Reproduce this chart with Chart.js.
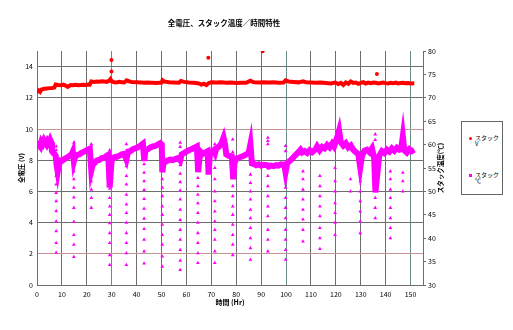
<!DOCTYPE html>
<html>
<head>
<meta charset="utf-8">
<script src="https://cdn.jsdelivr.net/npm/chart.js@4.4.1/dist/chart.umd.min.js"></script>
<style>
    body { margin: 0; background: #fff; }
    #cadre { position: relative; width: 513px; height: 330px; }
    #legende {
        position: absolute; left: 461px; top: 121px; width: 40px; height: 72px;
        border: 1px solid #666; background: #fff;
        font: 6px "Noto Sans CJK JP", sans-serif; color: #000; line-height: 6px;
    }
    .item { position: absolute; left: 2px; }
    .item span.m { position: absolute; left: 5px; top: 2px; width: 3px; height: 3px; }
    .item span.t { position: absolute; left: 11px; top: 0; white-space: nowrap; }
</style>
</head>
<body>
<div id="cadre">
    <canvas id="graphe" width="513" height="330"></canvas>
    <div id="legende">
        <div class="item" style="top:13px"><span class="m" style="background:#ff0000;border-radius:50%"></span><span class="t">スタック<br>V</span></div>
        <div class="item" style="top:50px"><span class="m" style="background:#ff00ff"></span><span class="t">スタック<br>℃</span></div>
    </div>
</div>
<script>
// tension totale de la pile (V, axe gauche)
const voltHours = [0.3, 0.7, 1.2, 1.7, 2.2, 3, 4, 5, 6, 7, 7.5, 8.5, 9.5, 10.5, 11.5, 12.3, 13.5, 14.5, 15.5, 16.5,
    17.5, 18.5, 19.5, 20.5, 21.2, 21.8, 23, 24, 25, 26, 27, 28, 29, 29.5, 30, 31, 32, 33, 34, 35,
    36, 37, 38, 40, 42, 43, 44, 46, 48, 50, 50.4, 51, 53, 55, 57, 57.8, 59, 61, 63, 65,
    66, 67, 68, 69, 70, 72, 74, 76, 78, 80, 82, 84, 85.7, 87, 89, 91, 93, 95, 97, 99,
    99.8, 101, 103, 105, 106.8, 108, 110, 112, 114, 116, 118, 119.7, 121, 122, 123, 124, 125, 126, 127, 128,
    129, 130, 131, 132, 133, 134, 135, 136, 137, 138, 139, 140, 141, 142, 143, 144, 145, 146, 147, 148,
    149, 150, 151.5];
const voltValues = [12.30, 12.45, 12.38, 12.52, 12.55, 12.58, 12.60, 12.62, 12.63, 12.66, 12.85, 12.82, 12.80, 12.84, 12.78, 12.70, 12.82, 12.80, 12.83, 12.80,
    12.82, 12.84, 12.82, 12.85, 12.84, 13.05, 13.02, 13.05, 13.03, 13.06, 13.04, 13.02, 13.10, 13.20, 13.05, 13.00, 12.98, 13.02, 13.00, 12.98,
    13.12, 13.05, 13.02, 13.00, 12.98, 12.96, 12.98, 12.97, 12.95, 12.98, 13.12, 13.05, 13.00, 12.98, 12.96, 13.08, 13.02, 12.98, 12.96, 12.92,
    12.85, 12.90, 12.82, 12.95, 13.00, 12.98, 12.99, 12.96, 12.98, 12.95, 12.97, 12.96, 13.10, 13.00, 12.98, 13.00, 12.98, 12.99, 12.97, 12.98,
    13.12, 13.05, 13.02, 12.99, 13.06, 13.00, 12.98, 12.96, 12.98, 12.95, 12.92, 12.98, 12.88, 12.96, 12.82, 12.98, 12.90, 13.05, 12.95, 12.98,
    12.90, 12.96, 13.00, 12.92, 12.98, 12.94, 12.98, 12.96, 12.92, 12.95, 12.98, 12.94, 12.92, 12.96, 12.93, 12.98, 12.92, 12.95, 12.96, 12.93,
    12.95, 12.92, 12.94];

// mesures isolées hors de la bande
const spikeHours = [29.9, 29.9, 68.8, 90.6, 136.5];
const spikeVolts = [14.43, 13.68, 14.56, 14.98, 13.53];

// température de la pile (°C, axe droit)
const tempHours = [0.3, 0.8, 1.3, 1.8, 2.3, 2.8, 3.3, 3.8, 4.3, 4.8, 5.3, 5.7, 6.0, 6.5, 7.0, 7.5, 7.9, 8.3, 8.8, 9.3,
    10, 11, 12, 13, 14, 14.4, 14.8, 15.2, 16, 17, 18, 19, 20, 21.2, 21.8, 22.3, 23, 24, 25, 26,
    27, 28, 28.6, 29.2, 29.6, 30, 31, 32, 33, 34, 35, 35.9, 36.6, 37.5, 38.5, 39.5, 40.5, 41.5, 42.5, 43.1,
    43.5, 44.5, 45.5, 46.5, 47.5, 48.5, 49.5, 50.1, 50.3, 50.8, 51.5, 52.5, 53.5, 54.5, 55.5, 56.5, 57.5, 58.1, 59, 60,
    61, 62, 63, 64.2, 64.7, 65.2, 65.8, 66.5, 67.5, 68.5, 68.9, 69.4, 70.2, 71, 71.5, 72, 73, 74, 74.9, 75.5,
    76, 77, 78.2, 78.8, 79.3, 80, 81, 82, 83, 84, 85, 85.7, 86.3, 87, 88, 89, 90, 91, 92.4, 93,
    94, 95, 96, 97, 98, 99.3, 99.8, 100.5, 101.5, 102.5, 103.5, 104.5, 105.8, 106.5, 107.5, 108.5, 109.5, 110.5, 111.9, 112.5,
    113.5, 114.5, 115.5, 116.5, 117.5, 118.5, 119.3, 120.5, 121.3, 122, 123, 124, 125, 126, 127, 128, 129, 129.8, 130.5, 131.5,
    132.5, 133.5, 134.5, 135.4, 135.9, 136.6, 137.4, 138.5, 139.5, 140.5, 141.5, 142.5, 143.5, 144.5, 145.5, 146.2, 146.9, 147.5, 148.5, 149.5,
    150.5, 151.5];
const tempValues = [59.3, 59.8, 59.5, 60.6, 60.2, 60.9, 60.4, 60.0, 60.7, 60.3, 61.0, 60.5, 58.6, 58.2, 58.0, 57.6, 55.5, 54.2, 55.8, 56.6,
    56.5, 56.9, 57.2, 57.6, 58.0, 58.5, 56.4, 57.2, 57.8, 57.9, 58.3, 58.5, 58.8, 59.1, 54.5, 55.6, 56.0, 56.6, 56.7, 57.1,
    57.2, 57.6, 57.8, 50.8, 54.0, 56.8, 57.3, 57.4, 57.6, 57.9, 58.0, 56.8, 58.5, 58.6, 59.0, 59.2, 59.4, 59.8, 60.2, 56.5,
    58.8, 59.0, 59.4, 59.6, 59.7, 60.0, 60.3, 60.0, 54.1, 56.0, 56.3, 56.6, 56.8, 56.7, 56.9, 57.1, 56.6, 57.9, 58.2, 58.5,
    58.8, 59.0, 59.3, 59.6, 54.1, 56.8, 58.4, 58.0, 58.3, 58.6, 53.6, 57.8, 58.4, 58.8, 58.2, 59.2, 59.5, 60.2, 61.5, 60.0,
    57.9, 57.6, 57.5, 52.6, 56.0, 57.0, 57.2, 57.4, 57.6, 57.9, 58.2, 60.1, 56.0, 55.9, 55.6, 55.8, 55.5, 55.7, 55.6, 55.3,
    55.5, 55.4, 55.6, 55.5, 55.8, 55.7, 54.1, 56.1, 56.5, 57.0, 57.6, 58.1, 58.9, 58.3, 58.6, 58.2, 58.8, 58.4, 59.0, 59.6,
    58.8, 59.5, 59.2, 59.9, 59.4, 60.2, 59.6, 61.5, 63.0, 60.5, 59.8, 60.3, 59.4, 59.8, 58.9, 58.4, 58.0, 55.1, 57.6, 58.7,
    58.9, 58.4, 59.2, 57.0, 49.8, 53.5, 57.6, 58.6, 58.2, 58.9, 58.5, 59.2, 58.7, 59.3, 58.9, 59.0, 61.8, 58.8, 58.3, 59.0,
    58.6, 58.9];

// relevés pendant les arrêts (refroidissement)
const dropHours = [7.7, 14.8, 21.8, 29.2, 35.9, 43.0, 50.3, 57.5, 64.6, 71.4, 78.6,
    85.7, 92.7, 99.8, 106.8, 113.6, 119.7, 125.9, 129.8, 135.8, 141.9, 146.9];
const dropTemps = [
    [59.6, 58.8, 55.2, 53.3, 51.5, 49.7, 47.9, 45.8, 43.6, 41.5, 39.0, 36.9],
    [60.4, 56.0, 54.3, 52.6, 50.8, 48.7, 46.5, 43.5, 40.7, 38.6, 36.0],
    [60.1, 55.0, 53.8, 52.2, 50.4, 48.6, 46.5],
    [58.8, 52.5, 50.6, 48.6, 46.8, 45.0, 43.2, 41.1, 39.0, 36.4, 34.3],
    [60.1, 55.4, 53.3, 51.5, 49.3, 47.2, 45.4, 43.3, 41.1, 39.0, 36.8, 34.3],
    [60.5, 55.8, 54.0, 52.2, 50.3, 48.4, 46.3, 44.2, 42.0, 39.7, 37.2, 34.6],
    [52.6, 50.8, 49.0, 46.8, 45.0, 42.9, 40.7, 38.6, 36.1, 33.9],
    [60.4, 59.5, 55.6, 53.8, 52.0, 50.2, 48.3, 46.1, 43.9, 41.8, 39.7, 37.5, 35.2, 33.2],
    [57.8, 52.9, 51.1, 49.3, 47.5, 45.4, 43.3, 41.1, 39.0, 36.8, 34.7],
    [60.1, 55.0, 52.6, 50.0, 47.9, 45.7, 43.6, 41.8, 39.7, 37.2, 34.7],
    [61.1, 58.4, 53.2, 51.1, 49.0, 46.8, 45.0, 42.9, 40.7, 38.6, 36.4],
    [57.9, 53.6, 51.8, 50.0, 48.3, 46.1, 44.3, 42.2, 40.0, 37.9, 35.4],
    [61.5, 60.8, 60.1, 53.3, 51.1, 49.0, 46.8, 44.7, 41.8, 39.7, 37.2],
    [59.7, 58.6, 52.6, 50.8, 48.6, 46.5, 44.3, 41.8, 39.7, 37.5, 35.4],
    [54.3, 52.6, 50.4, 48.3, 46.1, 44.0, 41.8, 39.3],
    [53.3, 51.1, 49.0, 46.8, 44.7, 42.2, 40.0, 37.7],
    [55.0, 52.2, 50.0, 47.5, 45.4, 43.3, 40.7],
    [52.6, 50.0],
    [54.6, 52.2, 50.0, 47.9, 45.7, 43.6, 41.1],
    [62.2, 61.0, 51.0, 48.6, 46.5, 44.3],
    [54.3, 52.6, 50.4, 48.6, 46.5, 44.3, 42.2, 40.0],
    [54.0, 52.2, 50.0]
];

const voltTicks = [0, 2, 4, 6, 8, 10, 12, 14];

const ROUGE = "#ff0000";
const MAGENTA = "#ff00ff";
const POLICE = '"Noto Sans CJK JP", sans-serif';

const pointsTension = voltHours.map((h, i) => ({ x: h, y: voltValues[i] }));
const pointsIsoles = spikeHours.map((h, i) => ({ x: h, y: spikeVolts[i] }));
const pointsTemp = tempHours.map((h, i) => ({ x: h, y: tempValues[i] }));
const pointsArret = [];
dropHours.forEach((h, i) => {
    dropTemps[i].forEach(t => pointsArret.push({ x: h, y: t }));
});

// titre de l'axe droit, lu de bas en haut comme celui de gauche
const titreDroite = {
    id: "titreDroite",
    afterDraw(chart) {
        const ctx = chart.ctx;
        const a = chart.chartArea;
        ctx.save();
        ctx.translate(441, (a.top + a.bottom) / 2);
        ctx.rotate(-Math.PI / 2);
        ctx.font = "bold 6.5px " + POLICE;
        ctx.fillStyle = "#000";
        ctx.textAlign = "center";
        ctx.textBaseline = "middle";
        ctx.fillText("スタック温度(℃)", 0, 0);
        ctx.restore();
    }
};

function couleurGrilleY(ctx) {
    const v = ctx.tick && ctx.tick.value;
    if (v === 2 || v === 10) return "#c49494";
    return "#6e6e6e";
}
function couleurGrilleX(ctx) {
    const v = ctx.tick && ctx.tick.value;
    if (v === 30 || v === 100 || v === 150) return "#6c8c8c";
    return "#6e6e6e";
}

new Chart(document.getElementById("graphe"), {
    type: "scatter",
    data: {
        datasets: [
            {
                label: "スタック℃ (arrêts)",
                data: pointsArret,
                yAxisID: "yT",
                pointStyle: "triangle",
                pointRadius: 2.2,
                backgroundColor: MAGENTA,
                borderColor: MAGENTA,
                borderWidth: 0
            },
            {
                label: "スタック℃",
                data: pointsTemp,
                yAxisID: "yT",
                showLine: true,
                borderColor: MAGENTA,
                borderWidth: 6,
                pointRadius: 0,
                tension: 0
            },
            {
                label: "スタックV",
                data: pointsTension,
                yAxisID: "yV",
                showLine: true,
                borderColor: ROUGE,
                borderWidth: 4,
                pointRadius: 0,
                tension: 0
            },
            {
                label: "スタックV (isolés)",
                data: pointsIsoles,
                yAxisID: "yV",
                pointRadius: 2,
                backgroundColor: ROUGE,
                borderWidth: 0
            }
        ]
    },
    options: {
        responsive: false,
        animation: false,
        events: [],
        layout: { padding: { left: 0, right: 65, top: 0, bottom: 15 } },
        plugins: {
            legend: { display: false },
            tooltip: { enabled: false },
            title: {
                display: true,
                text: "全電圧、スタック温度／時間特性",
                color: "#000",
                font: { family: POLICE, size: 7.5, weight: "bold" },
                padding: { top: 19, bottom: 23 }
            }
        },
        scales: {
            x: {
                type: "linear",
                min: 0,
                max: 155,
                afterFit: s => { s.height = 30; },
                ticks: {
                    stepSize: 10,
                    includeBounds: false,
                    color: "#000",
                    font: { family: POLICE, size: 7 },
                    padding: 5,
                    maxRotation: 0
                },
                grid: { color: couleurGrilleX, drawTicks: false },
                border: { color: "#6e6e6e" },
                title: {
                    display: true,
                    text: "時間 (Hr)",
                    color: "#000",
                    font: { family: POLICE, size: 7, weight: "bold" },
                    padding: { top: 0, bottom: 8 }
                }
            },
            yV: {
                type: "linear",
                position: "left",
                min: 0,
                max: 15,
                afterFit: s => { s.width = 37; },
                afterBuildTicks: s => { s.ticks = voltTicks.map(v => ({ value: v })); },
                ticks: {
                    color: "#000",
                    font: { family: POLICE, size: 7 },
                    padding: 4
                },
                grid: { color: couleurGrilleY, drawTicks: false },
                border: { color: "#6e6e6e" },
                title: {
                    display: true,
                    text: "全電圧 (V)",
                    color: "#000",
                    font: { family: POLICE, size: 6.5, weight: "bold" },
                    padding: { top: 18, bottom: 0 }
                }
            },
            yT: {
                type: "linear",
                position: "right",
                min: 30,
                max: 80,
                afterFit: s => { s.width = 25; },
                ticks: {
                    stepSize: 5,
                    color: "#000",
                    font: { family: POLICE, size: 7 },
                    padding: 2
                },
                grid: { drawOnChartArea: false, color: "#6e6e6e", tickLength: 3 },
                border: { color: "#6e6e6e" }
            }
        }
    },
    plugins: [titreDroite]
});
</script>
</body>
</html>
